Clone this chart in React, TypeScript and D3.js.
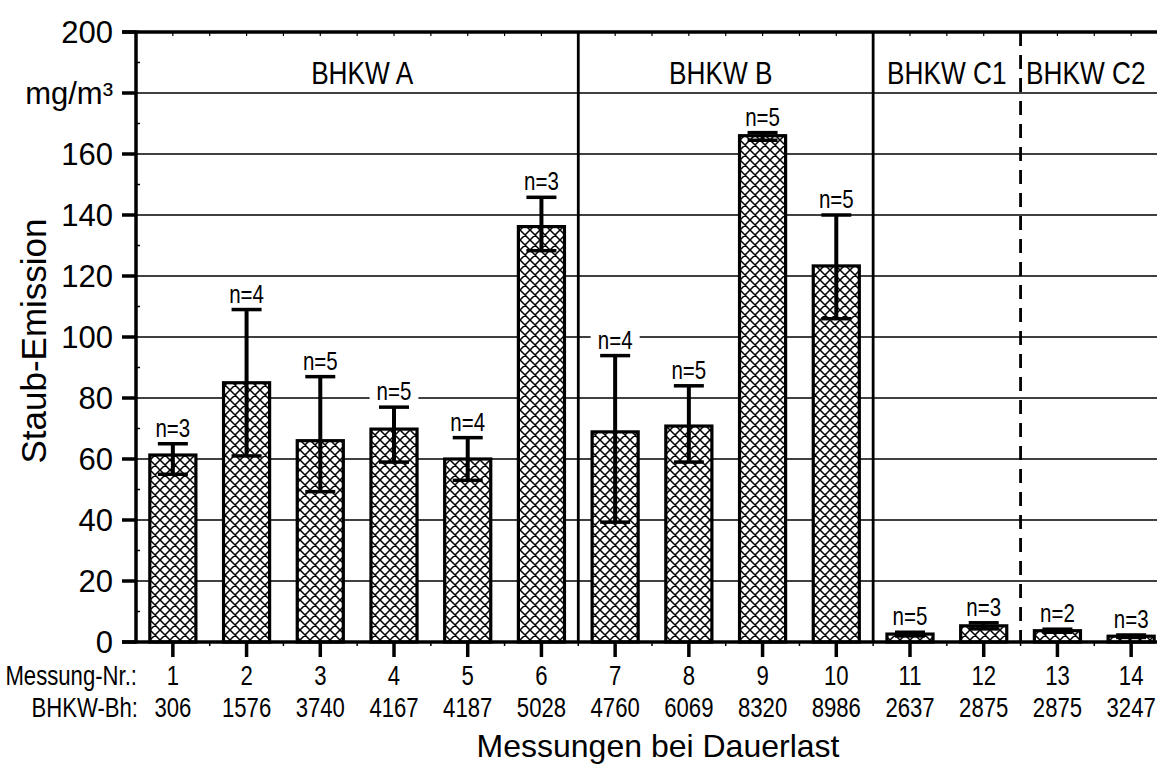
import React, { useEffect, useRef } from 'react';
import * as d3 from 'd3';

const messungNr = [1, 2, 3, 4, 5, 6, 7, 8, 9, 10, 11, 12, 13, 14];
const bhkwBh = [306, 1576, 3740, 4167, 4187, 5028, 4760, 6069, 8320, 8986, 2637, 2875, 2875, 3247];
const meanValues = [61.3, 85, 66, 69.8, 60, 136.2, 68.9, 70.8, 166, 123.3, 2.6, 5.3, 3.7, 1.9];
const errUpper = [65, 109, 87, 77, 67, 145.8, 93.9, 84, 167, 140, 3.2, 6.3, 4.2, 2.3];
const errLower = [55, 61, 49.3, 59, 53, 128.3, 39.3, 59, 164.5, 106, 2.0, 4.3, 3.2, 1.5];
const nCounts = [3, 4, 5, 5, 4, 3, 4, 5, 5, 5, 5, 3, 2, 3];

const groupNames = ['BHKW A', 'BHKW B', 'BHKW C1', 'BHKW C2'];
const groupFirst = [1, 7, 11, 13];
const groupLast = [6, 10, 12, 14];

const yTicks = [0, 20, 40, 60, 80, 100, 120, 140, 160, 180, 200];
const yTickLabels = ['0', '20', '40', '60', '80', '100', '120', '140', '160', 'mg/m³', '200'];

const W = 1157;
const H = 765;
const SANS = '"Liberation Sans", Arial, sans-serif';
const SQUEEZE = 0.82;

const App = () => {
  const ref = useRef<SVGSVGElement>(null);

  useEffect(() => {
    if (!ref.current) return;
    const svg = d3.select(ref.current);
    svg.selectAll('*').remove();

    const left = 136;
    const x = d3.scaleLinear().domain([0.5, 14.5]).range([left, 1168]);
    const y = d3.scaleLinear().domain([0, 200]).range([642, 32]);
    const step = x(2) - x(1);
    const barW = step * 0.625;
    const right = W;

    // narrow text (Arial Narrow look) via horizontal squeeze
    const narrow = (sel: any, tx: number, ty: number, size: number, txt: string, anchor = 'middle') =>
      sel.append('text')
        .attr('transform', `translate(${tx},${ty}) scale(${SQUEEZE},1)`)
        .attr('text-anchor', anchor)
        .attr('font-family', SANS)
        .attr('font-size', size)
        .text(txt);

    const P = 10;
    const defs = svg.append('defs');
    const pat = defs.append('pattern')
      .attr('id', 'hatch')
      .attr('patternUnits', 'userSpaceOnUse')
      .attr('width', P)
      .attr('height', P);
    pat.append('rect').attr('width', P).attr('height', P).attr('fill', '#fff');
    pat.append('path')
      .attr('d', `M0,0L${P},${P}M${P},0L0,${P}M-1,${P - 1}L1,${P + 1}M${P - 1},-1L${P + 1},1M-1,1L1,-1M${P - 1},${P + 1}L${P + 1},${P - 1}`)
      .attr('stroke', '#000')
      .attr('stroke-width', 1.5);

    // grid lines
    svg.append('g').selectAll('line')
      .data(yTicks.filter(d => d > 0 && d < 200))
      .enter().append('line')
      .attr('x1', left).attr('x2', right)
      .attr('y1', d => y(d)).attr('y2', d => y(d))
      .attr('stroke', '#000').attr('stroke-width', 1.5);

    // section separators
    const sep = svg.append('g');
    groupFirst.slice(1).forEach((f, i) => {
      sep.append('line')
        .attr('x1', x(f - 0.5)).attr('x2', x(f - 0.5))
        .attr('y1', y(200)).attr('y2', y(0))
        .attr('stroke', '#000')
        .attr('stroke-width', 2.8)
        .attr('stroke-dasharray', i === 2 ? '14,9' : null);
    });

    // group labels
    const gl = svg.append('g');
    groupNames.forEach((name, i) => {
      const cx = (x(groupFirst[i] - 0.5) + Math.min(x(groupLast[i] + 0.5), right)) / 2
        + (i === 0 ? 5 : i === 1 ? -5 : i === 3 ? -3 : 0);
      narrow(gl, cx, 84, 32, name);
    });

    // bars
    svg.append('g').selectAll('rect')
      .data(meanValues)
      .enter().append('rect')
      .attr('x', (d, i) => x(messungNr[i]) - barW / 2)
      .attr('y', d => y(d))
      .attr('width', barW)
      .attr('height', d => y(0) - y(d))
      .attr('fill', 'url(#hatch)')
      .attr('stroke', '#000')
      .attr('stroke-width', 3.2);

    // error bars
    const capW = 30;
    const err = svg.append('g').attr('stroke', '#000');
    messungNr.forEach((m, i) => {
      const cx = x(m);
      err.append('line').attr('x1', cx).attr('x2', cx)
        .attr('y1', y(errUpper[i])).attr('y2', y(errLower[i])).attr('stroke-width', 4);
      err.append('line').attr('x1', cx - capW / 2).attr('x2', cx + capW / 2)
        .attr('y1', y(errUpper[i])).attr('y2', y(errUpper[i])).attr('stroke-width', 3.5);
      err.append('line').attr('x1', cx - capW / 2).attr('x2', cx + capW / 2)
        .attr('y1', y(errLower[i])).attr('y2', y(errLower[i])).attr('stroke-width', 3.5);
    });

    // n labels with white background
    const nl = svg.append('g');
    messungNr.forEach((m, i) => {
      const g = nl.append('g');
      const t = narrow(g, x(m), y(errUpper[i]) - 7, 25, `n=${nCounts[i]}`);
      const bb = (t.node() as SVGTextElement).getBBox();
      const w = bb.width * SQUEEZE;
      g.insert('rect', 'text')
        .attr('x', x(m) - w / 2 - 7).attr('y', y(errUpper[i]) - 7 + bb.y + 2)
        .attr('width', w + 14).attr('height', bb.height - 4)
        .attr('fill', '#fff');
    });

    // y axis
    const ya = svg.append('g');
    ya.append('line').attr('x1', left).attr('x2', left).attr('y1', y(200) - 1.5).attr('y2', y(0) + 1.5)
      .attr('stroke', '#000').attr('stroke-width', 3.5);
    ya.selectAll('.major').data(yTicks).enter().append('line')
      .attr('x1', 122).attr('x2', left).attr('y1', d => y(d)).attr('y2', d => y(d))
      .attr('stroke', '#000').attr('stroke-width', 3.5);
    ya.selectAll('.minor').data(d3.range(10, 200, 20)).enter().append('line')
      .attr('x1', left).attr('x2', left + 4).attr('y1', d => y(d)).attr('y2', d => y(d))
      .attr('stroke', '#000').attr('stroke-width', 1.5);
    ya.selectAll('text').data(yTicks).enter().append('text')
      .attr('x', 113).attr('y', d => y(d) + 11)
      .attr('text-anchor', 'end')
      .attr('font-family', SANS)
      .attr('font-size', 31)
      .text((d, i) => yTickLabels[i]);

    // top border
    svg.append('line').attr('x1', 122).attr('x2', right).attr('y1', y(200)).attr('y2', y(200))
      .attr('stroke', '#000').attr('stroke-width', 3.5);
    svg.append('g').selectAll('line').data(d3.range(1, 15.5, 0.5)).enter().append('line')
      .attr('x1', d => x(d)).attr('x2', d => x(d)).attr('y1', y(200)).attr('y2', y(200) + 4)
      .attr('stroke', '#000').attr('stroke-width', 1.2);

    // x axis
    const xa = svg.append('g');
    xa.append('line').attr('x1', 122).attr('x2', right).attr('y1', y(0)).attr('y2', y(0))
      .attr('stroke', '#000').attr('stroke-width', 3.5);
    xa.selectAll('.major').data(messungNr).enter().append('line')
      .attr('x1', d => x(d)).attr('x2', d => x(d)).attr('y1', y(0)).attr('y2', y(0) + 15)
      .attr('stroke', '#000').attr('stroke-width', 3.5);
    xa.selectAll('.minor').data(d3.range(1.5, 14.5, 1)).enter().append('line')
      .attr('x1', d => x(d)).attr('x2', d => x(d)).attr('y1', y(0)).attr('y2', y(0) + 4)
      .attr('stroke', '#000').attr('stroke-width', 1.5);
    messungNr.forEach((m, i) => {
      narrow(xa, x(m), 685, 27, String(m));
      narrow(xa, x(m), 717, 27, String(bhkwBh[i]));
    });
    narrow(xa, 137, 685, 27, 'Messung-Nr.:', 'end');
    narrow(xa, 138, 717, 27, 'BHKW-Bh:', 'end');

    // axis titles
    svg.append('text')
      .attr('x', 658).attr('y', 757)
      .attr('text-anchor', 'middle')
      .attr('font-family', SANS).attr('font-size', 32)
      .text('Messungen bei Dauerlast');
    svg.append('text')
      .attr('transform', `translate(46,341) rotate(-90)`)
      .attr('text-anchor', 'middle')
      .attr('font-family', SANS).attr('font-size', 35)
      .text('Staub-Emission');
  }, []);

  return (
    <svg
      ref={ref}
      width={W}
      height={H}
      style={{ position: 'absolute', left: 0, top: 0, background: '#fff' }}
    />
  );
};

export default App;
